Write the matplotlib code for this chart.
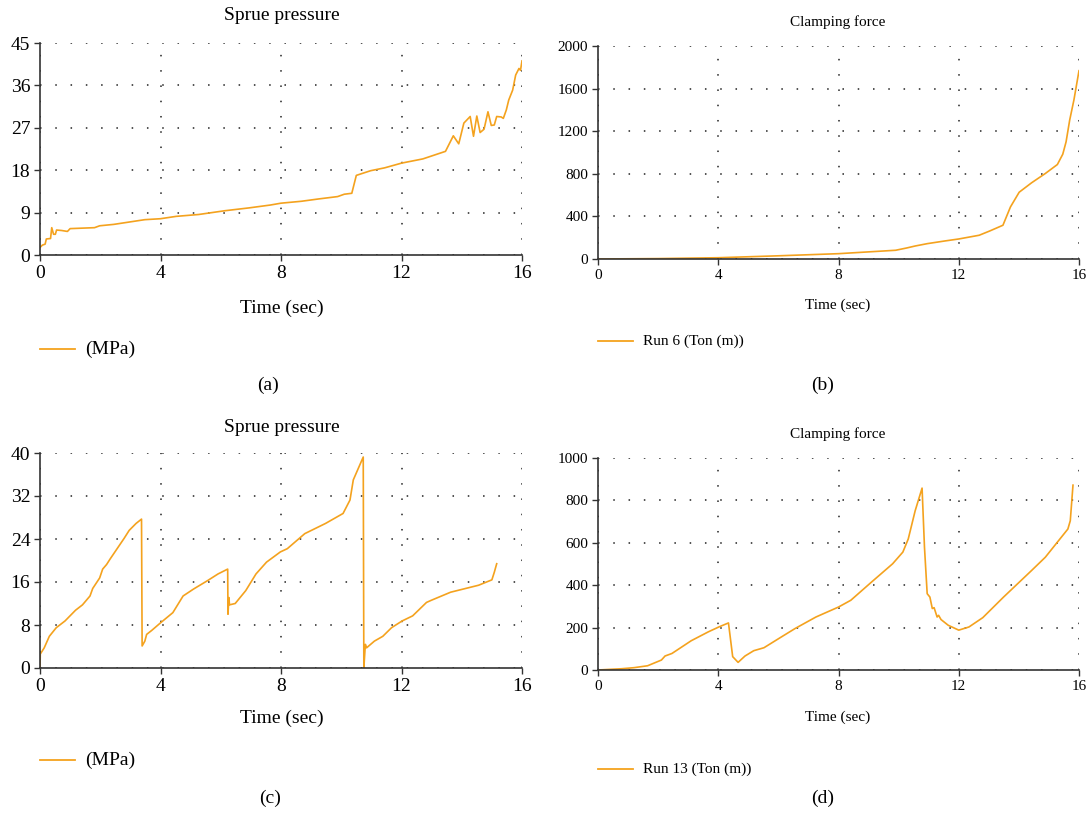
import matplotlib
matplotlib.use("Agg")
import matplotlib.pyplot as plt
from matplotlib.lines import Line2D

plt.rcParams['font.family'] = ['Liberation Serif', 'DejaVu Serif']

# (a) sprue pressure, run 6
t_a = [0, 0.08, 0.17, 0.21, 0.35, 0.39, 0.45, 0.51, 0.55, 0.72, 0.91, 1.0, 1.81, 1.98,
       2.45, 3.48, 4.0, 4.52, 5.27, 6.14, 6.94, 7.64, 8.0, 8.67, 9.25, 9.88, 10.1, 10.35,
       10.5, 10.98, 11.44, 12.0, 12.71, 13.46, 13.72, 13.9, 14.07, 14.28, 14.39, 14.5,
       14.61, 14.74, 14.87, 14.98, 15.08, 15.16, 15.31, 15.38, 15.48, 15.56, 15.69,
       15.79, 15.9, 15.95, 16.0]
p_a = [1.6, 2.1, 2.3, 3.4, 3.5, 5.8, 4.4, 4.4, 5.3, 5.2, 5.0, 5.6, 5.8, 6.2,
       6.5, 7.5, 7.7, 8.2, 8.6, 9.4, 10.0, 10.6, 11.0, 11.4, 11.9, 12.4, 12.9, 13.1,
       16.9, 17.9, 18.5, 19.5, 20.4, 22.0, 25.3, 23.6, 28.0, 29.4, 25.2, 29.5,
       26.0, 26.7, 30.4, 27.5, 27.6, 29.4, 29.3, 29.0, 30.8, 32.9, 35.0,
       38.2, 39.6, 39.2, 41.2]

# (b) clamping force, run 6
t_b = [0, 2, 4.0, 6.0, 8.0, 9.9, 10.26, 10.55, 10.95, 11.53, 12.0, 12.68, 13.03, 13.47,
       13.72, 14.01, 14.42, 14.88, 15.28, 15.46, 15.57, 15.69, 15.83, 16.0]
f_b = [0, 4, 12, 30, 50, 82, 103, 122, 144, 169, 188, 223, 263, 317,
       489, 627, 715, 803, 887, 984, 1100, 1304, 1492, 1768]

# (c) sprue pressure, run 13
t_c = [0, 0.01, 0.14, 0.31, 0.54, 0.83, 1.18, 1.41, 1.66, 1.75, 1.98, 2.08, 2.21, 2.33,
       2.79, 2.96, 3.19, 3.37, 3.39, 3.48, 3.54, 3.71, 4.0, 4.41, 4.75, 5.1, 5.56, 5.91,
       6.23, 6.24, 6.27, 6.29, 6.48, 6.83, 7.17, 7.52, 7.98, 8.21, 8.79, 9.48, 10.06,
       10.29, 10.4, 10.73, 10.75, 10.8, 10.84, 11.1, 11.38, 11.67, 12.02, 12.37, 12.83,
       12.99, 13.63, 14.56, 15.0, 15.08, 15.16]
p_c = [0, 2.6, 3.75, 5.9, 7.5, 8.75, 10.75, 11.75, 13.4, 14.8, 16.75, 18.4, 19.25, 20.3,
       24.1, 25.6, 26.9, 27.7, 4.1, 5.0, 6.25, 7.0, 8.4, 10.3, 13.4, 14.7, 16.25, 17.5,
       18.4, 10.0, 13.1, 11.75, 12.0, 14.4, 17.5, 19.7, 21.6, 22.2, 25.0, 26.9, 28.75,
       31.25, 35.0, 39.25, 0, 4.4, 3.75, 5.0, 5.9, 7.5, 8.75, 9.7, 12.2,
       12.6, 14.1, 15.4, 16.4, 17.8, 19.4]

# (d) clamping force, run 13
t_d = [0, 0.79, 1.2, 1.65, 2.11, 2.23, 2.46, 3.1, 3.67, 4.02, 4.34, 4.48, 4.66, 4.89, 5.18,
       5.52, 6.1, 6.56, 7.25, 8.0, 8.41, 9.1, 9.8, 10.14, 10.32, 10.55, 10.78, 10.86,
       10.95, 11.04, 11.12, 11.18, 11.28, 11.33, 11.41, 11.65, 12.0, 12.34, 12.8, 13.49,
       14.42, 14.88, 15.63, 15.71, 15.8]
f_d = [0, 6, 11, 20, 47, 66, 78, 138, 180, 203, 222, 63, 36, 66, 91,
       105, 156, 196, 250, 297, 329, 415, 501, 556, 618, 751, 858, 579,
       360, 344, 290, 294, 250, 258, 238, 211, 188, 203, 247, 344,
       469, 532, 665, 704, 872]

x_ticks = [0, 4, 8, 12, 16]
yticks_a = [0, 9, 18, 27, 36, 45]
yticks_b = [0, 400, 800, 1200, 1600, 2000]
yticks_c = [0, 8, 16, 24, 32, 40]
yticks_d = [0, 200, 400, 600, 800, 1000]

LINE = '#F4A21E'
W, H = 1091, 814

fig = plt.figure(figsize=(W / 100, H / 100), dpi=100)


def px(x, y):
    return x / W, 1 - y / H


def make_axes(rect_px, yticks, fs):
    x0, y0, x1, y1 = rect_px
    ax = fig.add_axes([x0 / W, 1 - y1 / H, (x1 - x0) / W, (y1 - y0) / H])
    ax.set_xlim(0, 16)
    ax.set_ylim(yticks[0], yticks[-1])
    ax.set_xticks(x_ticks)
    ax.set_yticks(yticks)
    ax.tick_params(labelsize=fs, length=4, width=1, color='#333333', pad=3)
    for s in ['top', 'right']:
        ax.spines[s].set_visible(False)
    for s in ['left', 'bottom']:
        ax.spines[s].set_color('#333333')
        ax.spines[s].set_linewidth(1.2)
    ax.grid(True, color='#222222', linestyle=(0, (1, 9)), linewidth=1.1)
    ax.set_axisbelow(True)
    return ax


def decorate(cx, ty, xly, title, fs, leg_x, leg_y, label, cap, cap_x, cap_y):
    fig.text(*px(cx, ty), title, ha='center', va='center', fontsize=fs)
    fig.text(*px(cx, xly), 'Time (sec)', ha='center', va='center', fontsize=fs)
    fig.add_artist(Line2D([leg_x / W, (leg_x + 35) / W], [1 - leg_y / H] * 2,
                          color=LINE, lw=1.3))
    fig.text(*px(leg_x + 45, leg_y), label, ha='left', va='center', fontsize=fs)
    fig.text(*px(cap_x, cap_y), cap, ha='center', va='center', fontsize=14)


big = 14
small = 11

ax_a = make_axes((40, 43, 522, 255), yticks_a, big)
ax_a.plot(t_a, p_a, color=LINE, lw=1.2)
ax_b = make_axes((598, 46, 1079, 259), yticks_b, small)
ax_b.plot(t_b, f_b, color=LINE, lw=1.2)
ax_c = make_axes((40, 453, 522, 668), yticks_c, big)
ax_c.plot(t_c, p_c, color=LINE, lw=1.2)
ax_d = make_axes((598, 458, 1079, 670), yticks_d, small)
ax_d.plot(t_d, f_d, color=LINE, lw=1.2)

decorate(282, 15, 308, 'Sprue pressure', big, 40, 349, '(MPa)', '(a)', 268, 385)
decorate(838, 22, 305, 'Clamping force', small, 598, 341, 'Run 6 (Ton (m))', '(b)', 823, 385)
decorate(282, 427, 718, 'Sprue pressure', big, 40, 760, '(MPa)', '(c)', 270, 798)
decorate(838, 434, 717, 'Clamping force', small, 598, 769, 'Run 13 (Ton (m))', '(d)', 823, 798)

fig.savefig('out.png', dpi=100)
